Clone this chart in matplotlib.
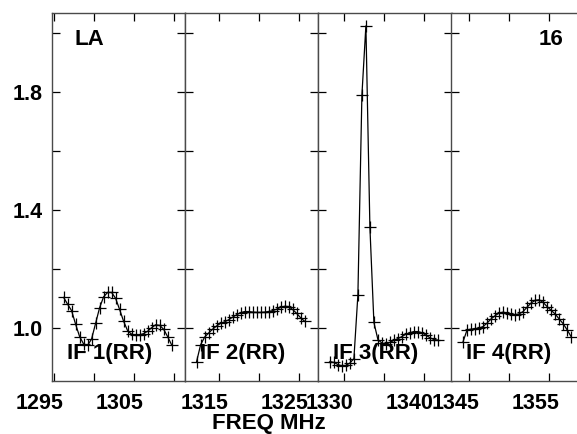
import numpy as np
import matplotlib
matplotlib.use("Agg")
import matplotlib.pyplot as plt
import matplotlib.transforms as mtransforms

# ---------------- data ----------------
if_labels = ["IF 1(RR)", "IF 2(RR)", "IF 3(RR)", "IF 4(RR)"]
if_start_mhz = [1295, 1311, 1327, 1343]
chan_width_mhz = 0.5
first_chan_offset_mhz = 1.25

amp_if1 = [1.103, 1.080, 1.058, 1.012, 0.970, 0.945, 0.940, 0.962, 1.015, 1.068,
           1.105, 1.120, 1.120, 1.100, 1.062, 1.022, 0.990, 0.978, 0.975, 0.976,
           0.980, 0.988, 1.000, 1.010, 1.008, 0.995, 0.970, 0.942]
amp_if2 = [0.885, 0.942, 0.968, 0.982, 0.995, 1.006, 1.015, 1.020, 1.027, 1.036,
           1.044, 1.051, 1.055, 1.055, 1.053, 1.052, 1.052, 1.053, 1.055, 1.058,
           1.063, 1.069, 1.073, 1.072, 1.062, 1.049, 1.034, 1.022]
amp_if3 = [0.885, 0.882, 0.875, 0.870, 0.872, 0.880, 0.895, 1.112, 1.790, 2.027,
           1.342, 1.018, 0.960, 0.948, 0.945, 0.950, 0.957, 0.963, 0.970, 0.978,
           0.983, 0.987, 0.987, 0.983, 0.975, 0.966, 0.960, 0.958]
amp_if4 = [0.953, 0.993, 0.995, 0.997, 0.999, 1.004, 1.016, 1.030, 1.041, 1.050,
           1.053, 1.050, 1.047, 1.044, 1.047, 1.055, 1.070, 1.084, 1.093, 1.095,
           1.086, 1.072, 1.059, 1.047, 1.030, 1.014, 0.993, 0.970]
amps = [amp_if1, amp_if2, amp_if3, amp_if4]

x_ticks = [[1295, 1300, 1305, 1310], [1315, 1320, 1325], [1330, 1335, 1340], [1345, 1350, 1355]]
x_tick_labels = [["1295", "", "1305", ""], ["1315", "", "1325"], ["1330", "", "1340"], ["1345", "", "1355"]]
y_ticks = [1.0, 1.2, 1.4, 1.6, 1.8, 2.0]
y_tick_labels = ["1.0", "", "1.4", "", "1.8", ""]
source_name = "LA"
plot_number = "16"
x_title = "FREQ MHz"

# ---------------- layout ----------------
W, H = 577, 434
DPI = 100
plt.rcParams["font.family"] = ["Liberation Sans", "DejaVu Sans"]
plt.rcParams["font.weight"] = "bold"

fig = plt.figure(figsize=(W / DPI, H / DPI), dpi=DPI)
fig.patch.set_facecolor("white")

panel_left_px = [52, 185, 318.3, 451.5]
panel_w_px = 133.2
top_px, bot_px = 12.7, 381.0
ylim = (0.819, 2.0705)

xoff = mtransforms.ScaledTranslation(-14 / DPI, 0, fig.dpi_scale_trans)

for i in range(4):
    ax = fig.add_axes([panel_left_px[i] / W, (H - bot_px) / H,
                       panel_w_px / W, (bot_px - top_px) / H])
    start = if_start_mhz[i]
    freqs = start + first_chan_offset_mhz + chan_width_mhz * np.arange(len(amps[i]))
    ax.plot(freqs, amps[i], color="black", lw=0.9, marker="+", ms=8.5, mew=0.9,
            solid_joinstyle="miter")
    ax.set_xlim(start - 0.2, start + 16.45)
    ax.set_ylim(*ylim)
    for s in ax.spines.values():
        s.set_color("#4a4a4a")
        s.set_linewidth(1.0)
    ax.tick_params(direction="in", length=5.6, width=0.9, color="black",
                   top=True, right=True, labelsize=15.5)
    ax.tick_params(axis="x", pad=8.5)
    ax.tick_params(axis="y", pad=7)
    ax.set_xticks(x_ticks[i])
    ax.set_xticklabels(x_tick_labels[i], fontweight="bold")
    for lab in ax.get_xticklabels():
        lab.set_transform(lab.get_transform() + xoff)
    ax.set_yticks(y_ticks)
    if i == 0:
        ax.set_yticklabels(y_tick_labels, fontweight="bold")
    else:
        ax.tick_params(axis="y", labelleft=False)
    ax.text(15 / panel_w_px, (bot_px - 359.3) / (bot_px - top_px), if_labels[i],
            transform=ax.transAxes, fontsize=16, fontweight="bold",
            ha="left", va="baseline")
    if i == 0:
        ax.text(23 / panel_w_px, (bot_px - 45) / (bot_px - top_px), source_name,
                transform=ax.transAxes, fontsize=16, fontweight="bold",
                ha="left", va="baseline")

fig.text(563 / W, 1 - 45 / H, plot_number, fontsize=16, fontweight="bold",
         ha="right", va="baseline")
fig.text(269 / W, 5.5 / H, x_title, fontsize=16, fontweight="bold",
         ha="center", va="baseline")

fig.savefig("out.png", dpi=DPI, facecolor="white")
